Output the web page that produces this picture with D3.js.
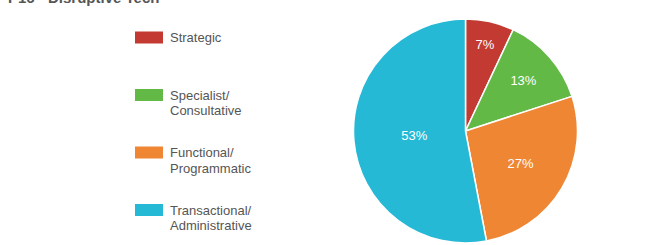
<!DOCTYPE html>
<html lang="en">
<head>
<meta charset="UTF-8">
<title>P16 - Disruptive Tech</title>
<script src="https://cdn.jsdelivr.net/npm/d3@7"></script>
<style>
    body { margin: 0; background: #fff; }
    svg { display: block; font-family: Arial, "Liberation Sans", sans-serif; }
    .title { font-size: 15px; font-weight: bold; fill: #555; }
    .legend text { font-size: 13px; fill: #555; }
    .slice-label { font-size: 13px; fill: #fff; }
</style>
</head>
<body>
<div id="chart"></div>
<script>
    // data
    var categories = ["Strategic", "Specialist/\nConsultative", "Functional/\nProgrammatic", "Transactional/\nAdministrative"];
    var values = [7, 13, 27, 53];
    var colors = ["#c33a32", "#62b946", "#ef8633", "#26b9d6"];

    var width = 667, height = 245;
    var cx = 465.5, cy = 131, radius = 112;

    var svg = d3.select("#chart")
      .append("svg")
        .attr("width", width)
        .attr("height", height);

    // title (top cut off in the original)
    svg.append("text")
        .attr("class", "title")
        .attr("x", 8)
        .attr("y", 3)
        .text("P16 - Disruptive Tech");

    var rows = categories.map((c, i) => ({ name: c, value: values[i], color: colors[i] }));

    var pie = d3.pie()
        .sort(null)
        .value(d => d.value);

    var arc = d3.arc()
        .innerRadius(0)
        .outerRadius(radius);

    var total = d3.sum(values);

    var g = svg.append("g")
        .attr("transform", "translate(" + cx + "," + cy + ")");

    g.selectAll("path")
        .data(pie(rows))
        .enter()
        .append("path")
        .attr("d", arc)
        .attr("fill", d => d.data.color)
        .attr("stroke", "#fff")
        .attr("stroke-width", 1.5);

    // labels sit further out on small slices, closer in on big ones
    g.selectAll(".slice-label")
        .data(pie(rows))
        .enter()
        .append("text")
        .attr("class", "slice-label")
        .attr("text-anchor", "middle")
        .attr("dy", "0.35em")
        .attr("transform", d => {
            var pct = d.data.value / total * 100;
            var f = 0.79 - 0.163 * (Math.log(pct) - Math.log(7));
            var a = (d.startAngle + d.endAngle) / 2;
            return "translate(" + (Math.sin(a) * radius * f) + "," + (-Math.cos(a) * radius * f) + ")";
        })
        .text(d => Math.round(d.data.value / total * 100) + "%");

    // legend
    var legendY = d3.scaleLinear().domain([0, 1]).range([31.5, 89]);

    var legend = svg.selectAll(".legend")
        .data(rows)
        .enter()
        .append("g")
        .attr("class", "legend")
        .attr("transform", (d, i) => "translate(135," + legendY(i) + ")");

    legend.append("rect")
        .attr("width", 28)
        .attr("height", 12)
        .attr("fill", d => d.color);

    legend.append("text")
        .attr("x", 35)
        .attr("y", 10.5)
        .selectAll("tspan")
        .data(d => d.name.split("\n"))
        .enter()
        .append("tspan")
        .attr("x", 35)
        .attr("dy", (t, i) => i === 0 ? 0 : 15.5)
        .text(t => t);
</script>
</body>
</html>
